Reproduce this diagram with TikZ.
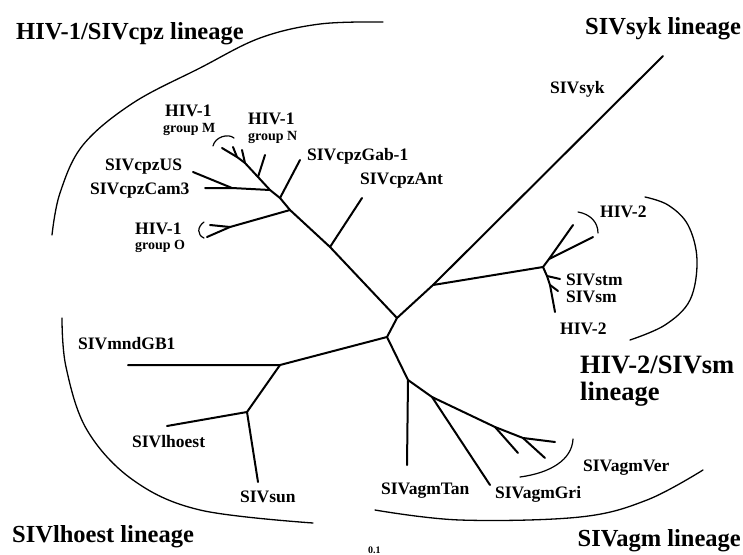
\documentclass[tikz,border=0pt]{standalone}
\usepackage{fontspec}
\setmainfont{Liberation Serif}
\begin{document}
\begin{tikzpicture}[x=1pt,y=-1pt,
  branch/.style={line width=2pt,line cap=round,line join=round},
  arcline/.style={line width=1.3pt,line cap=round},
  brk/.style={line width=1.2pt,line cap=round},
  lbl/.style={inner sep=0pt,anchor=base west,font=\fontsize{17.5}{18}\selectfont\bfseries},
  small/.style={inner sep=0pt,anchor=base west,font=\fontsize{14}{14}\selectfont\bfseries},
  title/.style={inner sep=0pt,anchor=base west,font=\fontsize{24.5}{25}\selectfont\bfseries},
  big/.style={inner sep=0pt,anchor=base west,font=\fontsize{26.5}{27}\selectfont\bfseries}]
\useasboundingbox (0,0) rectangle (743,554);
\fill[white] (0,0) rectangle (743,554);
% tree coordinates
\coordinate (R) at (397,318);
\coordinate (nB) at (387,337);
\coordinate (nAnt) at (330,247);
\coordinate (lAnt) at (362,198);
\coordinate (nO) at (290,210);
\coordinate (nO2) at (230,227);
\coordinate (lO1) at (207,237);
\coordinate (lO2) at (210,225);
\coordinate (nGab) at (280,198);
\coordinate (lGab) at (300,160);
\coordinate (nCam) at (270,190);
\coordinate (nUS) at (232,188);
\coordinate (lCam) at (205,188);
\coordinate (lUS) at (193,172);
\coordinate (nN) at (258,177);
\coordinate (lN) at (265,155);
\coordinate (nM1) at (245,163);
\coordinate (nM2) at (237,157);
\coordinate (lM1) at (242,150);
\coordinate (lM2) at (233,147);
\coordinate (lM) at (222,148);
\coordinate (nH2) at (433,285);
\coordinate (lSyk) at (663,56);
\coordinate (nSM) at (543,267);
\coordinate (nV) at (549,259);
\coordinate (lV1) at (573,225);
\coordinate (lV2) at (593,237);
\coordinate (lH2b) at (555,312);
\coordinate (nT1) at (547,276);
\coordinate (lT1) at (560,279);
\coordinate (nT2) at (550,285);
\coordinate (lT2) at (558,291);
\coordinate (nL) at (280,365);
\coordinate (lMnd) at (128,365);
\coordinate (nHo) at (247,412);
\coordinate (lHo) at (167,426);
\coordinate (lSun) at (258,482);
\coordinate (nA) at (408,380);
\coordinate (lTan) at (407,465);
\coordinate (nG) at (432,397);
\coordinate (lGri) at (490,485);
\coordinate (nV1) at (495,427);
\coordinate (lA1) at (518,453);
\coordinate (nV2) at (523,438);
\coordinate (lA2) at (545,458);
\coordinate (lA3) at (555,442);
% branches
\draw[branch] (lM) -- (nM2) -- (nM1) -- (nN) -- (nCam) -- (nGab) -- (nO) -- (nAnt) -- (R) -- (nH2) -- (lSyk);
\draw[branch] (nM2) -- (lM2);
\draw[branch] (nM1) -- (lM1);
\draw[branch] (nN) -- (lN);
\draw[branch] (nCam) -- (nUS) -- (lCam);
\draw[branch] (nUS) -- (lUS);
\draw[branch] (nGab) -- (lGab);
\draw[branch] (nO) -- (nO2) -- (lO1);
\draw[branch] (nO2) -- (lO2);
\draw[branch] (nAnt) -- (lAnt);
\draw[branch] (nH2) -- (nSM) -- (nV) -- (lV1);
\draw[branch] (nV) -- (lV2);
\draw[branch] (nSM) -- (nT1) -- (nT2) -- (lH2b);
\draw[branch] (nT1) -- (lT1);
\draw[branch] (nT2) -- (lT2);
\draw[branch] (R) -- (nB) -- (nL) -- (lMnd);
\draw[branch] (nL) -- (nHo) -- (lHo);
\draw[branch] (nHo) -- (lSun);
\draw[branch] (nB) -- (nA) -- (lTan);
\draw[branch] (nA) -- (nG) -- (lGri);
\draw[branch] (nG) -- (nV1) -- (lA1);
\draw[branch] (nV1) -- (nV2) -- (lA2);
\draw[branch] (nV2) -- (lA3);
% lineage arcs
\draw[arcline] plot[smooth,tension=0.6] coordinates {(383,22) (320,24) (260,38) (200,68) (133,103) (83,145) (60,193) (52,235)};
\draw[arcline] plot[smooth,tension=0.6] coordinates {(62,318) (66,367) (87,430) (133,480) (200,510) (313,523)};
\draw[arcline] plot[smooth,tension=0.6] coordinates {(375,510) (460,520) (580,517) (647,500) (703,470)};
\draw[arcline] plot[smooth,tension=0.6] coordinates {(645,197) (668,205) (688,225) (697,260) (690,300) (665,325) (630,340)};
% group brackets
\draw[brk] (213,146) .. controls (215,137) and (228,133) .. (234,138);
\draw[brk] (204,222) .. controls (197,227) and (197,235) .. (204,238);
\draw[brk] (578,212) .. controls (590,214) and (598,222) .. (598,233);
\draw[brk] (573,439) .. controls (572,460) and (550,473) .. (520,477);
% labels
\node[title] (tHIV1) at (16,39) {HIV-1/SIVcpz lineage};
\node[title] (tSyk) at (585,34) {SIVsyk lineage};
\node[big] (tHIV2a) at (580,373) {HIV-2/SIVsm};
\node[big] (tHIV2b) at (580,400) {lineage};
\node[title] (tLho) at (12,542) {SIVlhoest lineage};
\node[title,anchor=base east] (tAgm) at (741,546) {SIVagm lineage};
\node[lbl] (xSyk) at (550,93) {SIVsyk};
\node[lbl] (xUS) at (105,170) {SIVcpzUS};
\node[lbl] (xCam) at (90,194) {SIVcpzCam3};
\node[lbl] (xM) at (165,116) {HIV-1};
\node[small] (gM) at (163,132) {group M};
\node[lbl] (xN) at (248,124) {HIV-1};
\node[small] (gN) at (248,140) {group N};
\node[lbl] (xGab) at (307,160) {SIVcpzGab-1};
\node[lbl] (xAnt) at (360,184) {SIVcpzAnt};
\node[lbl] (xO) at (135,234) {HIV-1};
\node[small] (gO) at (135,249) {group O};
\node[lbl] (xH2a) at (600,217) {HIV-2};
\node[lbl] (xStm) at (566,285) {SIVstm};
\node[lbl] (xSm) at (566,302) {SIVsm};
\node[lbl] (xH2b) at (560,334) {HIV-2};
\node[lbl] (xMnd) at (78,349) {SIVmndGB1};
\node[lbl] (xHo) at (132,447) {SIVlhoest};
\node[lbl] (xSun) at (240,502) {SIVsun};
\node[lbl] (xTan) at (381,494) {SIVagmTan};
\node[lbl] (xGri) at (495,498) {SIVagmGri};
\node[lbl] (xVer) at (583,471) {SIVagmVer};
\node[inner sep=0pt,anchor=base west,font=\fontsize{10}{10}\selectfont\bfseries] (scale) at (368,553) {0.1};
\end{tikzpicture}
\end{document}
